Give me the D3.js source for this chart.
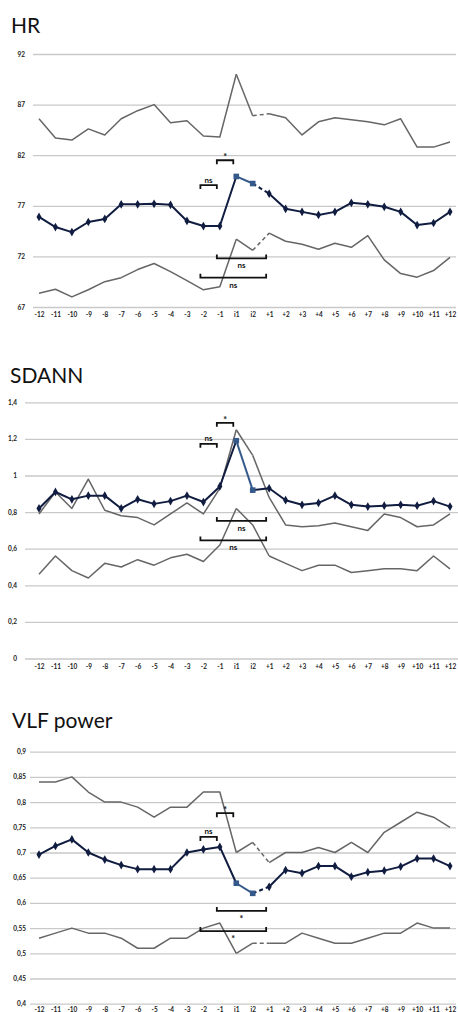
<!DOCTYPE html>
<html><head><meta charset="utf-8">
<script src="https://cdn.jsdelivr.net/npm/d3@7"></script>
<style>
html,body{margin:0;padding:0;background:#fff;}
svg{display:block;}
</style></head>
<body>
<svg id="c" width="458" height="1012"></svg>
<script>
const cats = ["-12","-11","-10","-9","-8","-7","-6","-5","-4","-3","-2","-1","i1","i2","+1","+2","+3","+4","+5","+6","+7","+8","+9","+10","+11","+12"];

// HR
const hrTicks = [67,72,77,82,87,92];
const hrUpper = [85.6,83.7,83.5,84.6,84.0,85.6,86.4,87.0,85.2,85.4,83.9,83.8,90.0,85.9,86.1,85.7,84.0,85.3,85.7,85.5,85.3,85.0,85.6,82.8,82.8,83.3];
const hrMean  = [75.9,74.9,74.4,75.4,75.7,77.15,77.15,77.2,77.1,75.5,75.0,75.0,79.9,79.2,78.2,76.7,76.4,76.1,76.4,77.3,77.15,76.9,76.4,75.1,75.3,76.4];
const hrLower = [68.35,68.75,68.0,68.7,69.5,69.9,70.7,71.3,70.5,69.6,68.7,69.0,73.7,72.6,74.3,73.5,73.2,72.7,73.3,72.9,74.05,71.65,70.3,69.95,70.6,71.9];
const hrBrackets = [
  {from:"-1", to:"i1", label:"*",  level:81.5,  side:"top"},
  {from:"-2", to:"-1", label:"ns", level:79.05, side:"top"},
  {from:"-1", to:"+1", label:"ns", level:71.8,  side:"bottom"},
  {from:"-2", to:"+1", label:"ns", level:69.9,  side:"bottom"}
];

// SDANN
const sdTicks = [0,0.2,0.4,0.6,0.8,1,1.2,1.4];
const sdUpper = [0.79,0.91,0.82,0.98,0.81,0.78,0.77,0.73,0.79,0.85,0.79,0.93,1.25,1.11,0.88,0.73,0.72,0.725,0.74,0.72,0.70,0.79,0.77,0.72,0.73,0.79];
const sdMean  = [0.82,0.91,0.87,0.89,0.89,0.82,0.87,0.845,0.86,0.89,0.855,0.94,1.19,0.92,0.93,0.865,0.84,0.85,0.89,0.84,0.83,0.835,0.84,0.835,0.86,0.83];
const sdLower = [0.46,0.56,0.48,0.44,0.52,0.50,0.54,0.51,0.55,0.57,0.53,0.62,0.82,0.73,0.56,0.52,0.48,0.51,0.51,0.47,0.48,0.49,0.49,0.48,0.56,0.49];
const sdBrackets = [
  {from:"-1", to:"i1", label:"*",  level:1.288, side:"top"},
  {from:"-2", to:"-1", label:"ns", level:1.173, side:"top"},
  {from:"-1", to:"+1", label:"ns", level:0.752, side:"bottom"},
  {from:"-2", to:"+1", label:"ns", level:0.645, side:"bottom"}
];

// VLF power
const vlfTicks = [0.4,0.45,0.5,0.55,0.6,0.65,0.7,0.75,0.8,0.85,0.9];
const vlfUpper = [0.84,0.84,0.85,0.82,0.80,0.80,0.79,0.77,0.79,0.79,0.82,0.82,0.70,0.72,0.68,0.70,0.70,0.71,0.70,0.72,0.70,0.74,0.76,0.78,0.77,0.75];
const vlfMean  = [0.696,0.713,0.726,0.70,0.686,0.675,0.667,0.667,0.667,0.70,0.706,0.711,0.639,0.619,0.632,0.665,0.659,0.673,0.673,0.652,0.661,0.664,0.672,0.688,0.688,0.673];
const vlfLower = [0.53,0.54,0.55,0.54,0.54,0.53,0.51,0.51,0.53,0.53,0.55,0.56,0.50,0.52,0.52,0.52,0.54,0.53,0.52,0.52,0.53,0.54,0.54,0.56,0.55,0.55];
const vlfBrackets = [
  {from:"-1", to:"i1", label:"*",  level:0.778, side:"top"},
  {from:"-2", to:"-1", label:"ns", level:0.731, side:"top"},
  {from:"-1", to:"+1", label:"*",  level:0.584, side:"bottom"},
  {from:"-2", to:"+1", label:"*",  level:0.544, side:"bottom"}
];

const svg = d3.select("#c");
const NAVY = "#101c40", BLUE = "#34598a", GREY = "#666", GRID = "#c9c9c9";
const FONT = "Lato, 'DejaVu Sans', sans-serif";
const fmt = v => String(+v.toFixed(2)).replace(".", ",");

function panel(cfg){
  const g = svg.append("g");
  const x = d3.scalePoint().domain(cats).range([39, 450]);
  const y = d3.scaleLinear().domain(cfg.domain).range(cfg.yRange);

  g.append("text").attr("x", cfg.titleX).attr("y", cfg.titleY)
    .attr("font-family", FONT).attr("font-size", 21).attr("fill", "#111")
    .text(cfg.title);

  // grid + y labels
  const ya = d3.axisLeft(y).tickValues(cfg.ticks).tickFormat(fmt)
    .tickSize(-(cfg.gridR - cfg.gridL)).tickPadding(cfg.gridL - cfg.labelR);
  const yg = g.append("g").attr("transform", `translate(${cfg.gridL},0)`).call(ya);
  yg.select(".domain").remove();
  yg.selectAll(".tick line").attr("stroke", GRID).attr("stroke-width", 1.3);
  yg.selectAll(".tick text").attr("font-family", FONT).attr("font-size", 6.5)
    .attr("font-weight", "bold").attr("fill", "#222");

  // x labels
  const xa = d3.axisBottom(x).tickSize(0).tickPadding(0);
  const xg = g.append("g").attr("transform", `translate(0,${cfg.xLabelY})`).call(xa);
  xg.select(".domain").remove();
  xg.selectAll(".tick text").attr("font-family", FONT).attr("font-size", 6.5)
    .attr("font-weight", "bold").attr("fill", "#222").attr("dy", "0.35em");

  const line = d3.line().x(d => x(d[0])).y(d => y(d[1]));
  const pts = arr => cats.map((c,i) => [c, arr[i]]);

  function drawSeries(arr, color, width, dashGap, midColor){
    const p = pts(arr);
    const segs = [
      {d: p.slice(0,13), c: color, dash: null},
      {d: p.slice(12,14), c: midColor || color, dash: null},
      {d: p.slice(13,15), c: color, dash: dashGap ? "4,3" : null},
      {d: p.slice(14), c: color, dash: null}
    ];
    segs.forEach(s => {
      g.append("path").attr("d", line(s.d)).attr("fill", "none")
        .attr("stroke", s.c).attr("stroke-width", width)
        .attr("stroke-linejoin", "round")
        .attr("stroke-dasharray", s.dash);
    });
  }

  drawSeries(cfg.upper, GREY, 1.5, cfg.dashGrey);
  drawSeries(cfg.lower, GREY, 1.5, cfg.dashGrey);
  drawSeries(cfg.mean, NAVY, 2, cfg.dashMean, BLUE);

  // markers
  const mp = pts(cfg.mean);
  g.selectAll(".dm").data(mp.filter(d => d[0] !== "i1" && d[0] !== "i2")).enter()
    .append("path").attr("d", d3.symbol(d3.symbolDiamond, 22)())
    .attr("transform", d => `translate(${x(d[0])},${y(d[1])})`)
    .attr("fill", NAVY);
  g.selectAll(".sq").data(mp.filter(d => d[0] === "i1" || d[0] === "i2")).enter()
    .append("rect").attr("x", d => x(d[0]) - 2.8).attr("y", d => y(d[1]) - 2.8)
    .attr("width", 5.6).attr("height", 5.6).attr("fill", BLUE);

  // significance brackets
  cfg.brackets.forEach(b => {
    const x1 = x(b.from) - 3, x2 = x(b.to) - 3, yy = y(b.level);
    const t = b.side === "top" ? 4 : -4;
    g.append("path").attr("d", `M${x1},${yy + t}V${yy}H${x2}V${yy + t}`)
      .attr("fill", "none").attr("stroke", "#111").attr("stroke-width", 1.8);
    const tx = (x1 + x2) / 2;
    const isStar = b.label === "*";
    const ty = b.side === "top" ? yy - (isStar ? 0 : 2.5) : yy + (isStar ? 11 : 10);
    g.append("text").attr("x", tx).attr("y", ty).attr("text-anchor", "middle")
      .attr("font-family", FONT).attr("font-weight", "bold")
      .attr("font-size", isStar ? 9 : 8).attr("fill", "#111").text(b.label);
  });
}

panel({title:"HR", titleX:11, titleY:33, domain:[67,92], yRange:[307,54], ticks:hrTicks,
  gridL:33, gridR:456, labelR:25, xLabelY:315,
  upper:hrUpper, mean:hrMean, lower:hrLower, dashGrey:true, dashMean:true, brackets:hrBrackets});

panel({title:"SDANN", titleX:10, titleY:383, domain:[0,1.4], yRange:[658.5,402.3], ticks:sdTicks,
  gridL:25, gridR:458, labelR:17, xLabelY:667,
  upper:sdUpper, mean:sdMean, lower:sdLower, dashGrey:false, dashMean:false, brackets:sdBrackets});

panel({title:"VLF power", titleX:12, titleY:728, domain:[0.4,0.9], yRange:[1003.7,751.7], ticks:vlfTicks,
  gridL:30, gridR:456, labelR:26, xLabelY:1010,
  upper:vlfUpper, mean:vlfMean, lower:vlfLower, dashGrey:true, dashMean:true, brackets:vlfBrackets});
</script>
</body></html>
